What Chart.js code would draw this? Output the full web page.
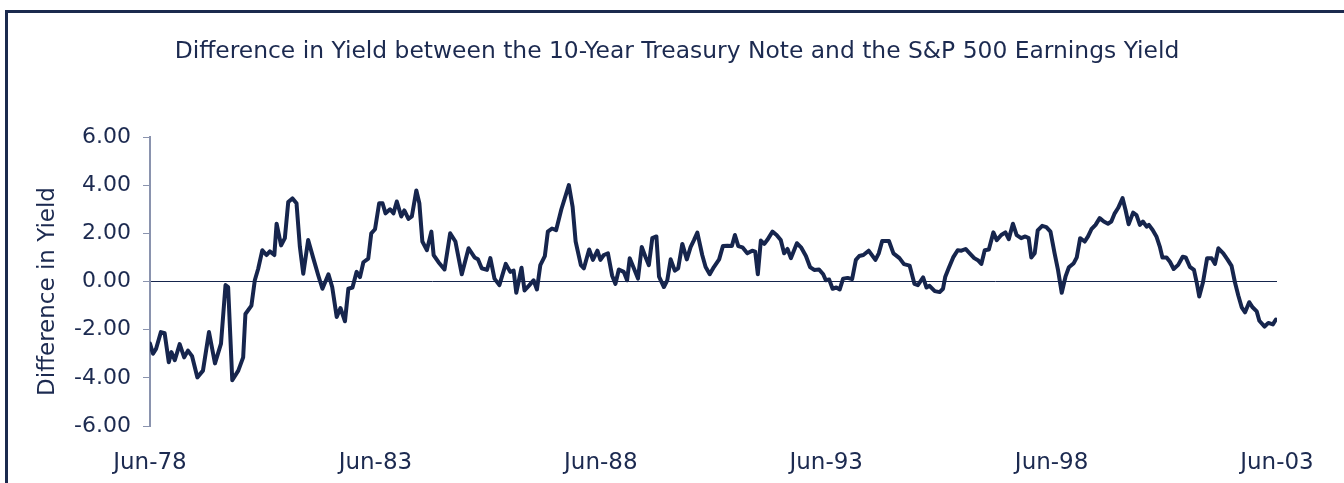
<!DOCTYPE html>
<html>
<head>
<meta charset="utf-8">
<script src="https://cdn.jsdelivr.net/npm/chart.js@4"></script>
<style>
  html, body { margin: 0; padding: 0; background: #ffffff; overflow: hidden; }
  #wrap { position: relative; width: 1344px; height: 483px; }
  #frame { position: absolute; left: 5px; top: 10px; width: 1400px; height: 600px;
           border-left: 3px solid #1b2a4e; border-top: 3px solid #1b2a4e; box-sizing: border-box; }
  canvas { position: absolute; left: 0; top: 0; }
</style>
</head>
<body>
<div id="wrap">
  <div id="frame"></div>
  <canvas id="c" width="1344" height="483"></canvas>
</div>
<script>
// Months elapsed since Jun-78
const months = [
  0, 0.8, 1.6, 2.9, 3.9, 5.0, 5.7, 6.6, 7.9, 9.1, 10.1, 11.2, 12.6, 14.1, 15.7, 17.3, 18.9, 20.1, 20.8, 21.9,
  23.5, 24.8, 25.4, 27.0, 27.9, 28.8, 29.9, 31.0, 31.9, 33.1, 33.7, 34.9, 35.9, 36.8, 37.9, 39.0, 39.9, 40.8, 42.1, 43.5,
  44.8, 45.9, 47.5, 48.5, 49.7, 50.7, 51.9, 52.8, 53.9, 55.0, 55.9, 56.8, 58.1, 58.9, 59.9, 61.0, 61.9, 62.7, 63.9, 64.8,
  65.7, 66.9, 67.7, 68.8, 69.7, 70.9, 71.7, 72.5, 73.7, 74.9, 75.5, 76.8, 78.4, 79.9, 81.3, 83.0, 84.8, 86.4, 87.3, 88.3,
  89.7, 90.6, 91.7, 93.0, 94.7, 95.9, 96.8, 97.5, 98.9, 99.7, 101.0, 102.1, 103.0, 103.9, 105.1, 105.9, 107.0, 108.1, 109.5, 111.5,
  112.5, 113.3, 114.7, 115.5, 116.9, 117.9, 119.1, 119.9, 120.8, 121.9, 123.0, 123.9, 124.8, 126.1, 127.0, 127.7, 128.8, 129.9, 130.9, 131.9,
  132.8, 133.7, 134.8, 135.5, 136.8, 137.7, 138.6, 139.7, 140.6, 141.7, 142.9, 143.9, 144.8, 145.7, 147.0, 147.9, 149.0, 150.1, 151.5, 152.5,
  153.7, 154.9, 155.7, 156.6, 157.7, 159.0, 160.3, 161.1, 161.8, 162.6, 163.5, 164.3, 165.7, 166.8, 167.9, 168.8, 169.7, 170.6, 172.2, 173.3,
  174.6, 175.7, 176.8, 178.1, 179.2, 179.9, 180.8, 181.7, 182.7, 183.6, 184.5, 185.7, 186.9, 187.9, 188.8, 189.9, 191.3, 193.1, 194.0, 194.9,
  196.7, 197.9, 199.5, 200.7, 202.2, 203.5, 204.4, 205.8, 206.7, 207.5, 208.9, 210.2, 211.1, 211.7, 212.6, 213.8, 215.0, 216.0, 217.1, 218.2,
  219.4, 220.5, 221.3, 222.2, 223.3, 224.5, 225.4, 226.6, 227.7, 228.6, 229.7, 230.7, 231.9, 233.0, 233.9, 234.6, 235.5, 236.3, 237.5, 238.6,
  239.7, 240.8, 241.7, 242.7, 243.7, 244.6, 245.9, 246.7, 247.6, 248.8, 249.7, 250.6, 251.7, 252.8, 253.9, 255.0, 255.9, 256.8, 257.7, 258.9,
  259.7, 260.5, 261.7, 262.6, 263.5, 264.3, 265.3, 265.9, 266.9, 267.9, 268.8, 269.5, 270.6, 271.5, 272.5, 273.7, 274.9, 275.7, 276.8, 277.9,
  278.7, 279.3, 280.3, 281.4, 282.6, 283.5, 284.4, 285.7, 286.8, 287.9, 288.8, 289.7, 290.6, 291.5, 292.6, 293.5, 294.6, 295.3, 296.7, 297.7,
  298.9, 299.7
];
// Difference in yield (10-yr Treasury minus S&P 500 earnings yield)
const spread = [
  -2.58, -3.0, -2.8, -2.1, -2.15, -3.35, -2.93, -3.27, -2.6, -3.15, -2.87, -3.1, -3.98, -3.7, -2.1, -3.4, -2.58, -0.15, -0.23, -4.1,
  -3.7, -3.15, -1.35, -1.0, 0.05, 0.53, 1.3, 1.1, 1.25, 1.1, 2.4, 1.5, 1.8, 3.3, 3.45, 3.25, 1.43, 0.32, 1.72, 0.95,
  0.25, -0.3, 0.3, -0.23, -1.47, -1.1, -1.65, -0.3, -0.25, 0.4, 0.18, 0.8, 0.95, 2.0, 2.17, 3.25, 3.25, 2.83, 3.0, 2.83,
  3.32, 2.7, 2.95, 2.6, 2.7, 3.78, 3.25, 1.66, 1.3, 2.07, 1.1, 0.8, 0.5, 2.0, 1.66, 0.3, 1.38, 1.0, 0.92, 0.55,
  0.48, 0.97, 0.12, -0.15, 0.73, 0.4, 0.45, -0.47, 0.57, -0.37, -0.15, 0.05, -0.33, 0.68, 1.05, 2.07, 2.2, 2.13, 3.0, 4.0,
  3.1, 1.66, 0.68, 0.55, 1.33, 0.9, 1.28, 0.9, 1.1, 1.17, 0.25, -0.1, 0.5, 0.4, 0.05, 0.97, 0.55, 0.12, 1.43, 1.02,
  0.68, 1.8, 1.87, 0.2, -0.23, 0.05, 0.92, 0.45, 0.55, 1.56, 0.92, 1.43, 1.72, 2.03, 1.1, 0.6, 0.3, 0.6, 0.92, 1.47,
  1.48, 1.47, 1.93, 1.47, 1.42, 1.17, 1.28, 1.24, 0.3, 1.7, 1.56, 1.72, 2.07, 1.93, 1.72, 1.17, 1.35, 0.97, 1.59, 1.42,
  1.06, 0.6, 0.48, 0.5, 0.3, 0.05, 0.08, -0.3, -0.25, -0.33, 0.12, 0.15, 0.1, 0.9, 1.06, 1.1, 1.28, 0.9, 1.17, 1.68,
  1.68, 1.17, 0.97, 0.72, 0.66, -0.1, -0.15, 0.17, -0.25, -0.18, -0.4, -0.44, -0.3, 0.2, 0.55, 1.0, 1.3, 1.28, 1.35, 1.17,
  0.97, 0.87, 0.73, 1.3, 1.33, 2.04, 1.72, 1.93, 2.04, 1.76, 2.4, 1.93, 1.8, 1.87, 1.8, 1.0, 1.17, 2.12, 2.31, 2.26,
  2.07, 1.17, 0.48, -0.47, 0.2, 0.59, 0.76, 1.0, 1.8, 1.66, 1.87, 2.17, 2.35, 2.63, 2.49, 2.4, 2.49, 2.83, 3.05, 3.46,
  2.96, 2.38, 2.86, 2.76, 2.35, 2.49, 2.28, 2.35, 2.14, 1.87, 1.45, 1.0, 1.0, 0.82, 0.52, 0.69, 1.03, 1.0, 0.61, 0.48,
  -0.1, -0.62, -0.03, 0.97, 0.97, 0.73, 1.38, 1.17, 0.92, 0.65, -0.03, -0.58, -1.07, -1.28, -0.86, -1.07, -1.24, -1.63, -1.87, -1.72,
  -1.78, -1.58
];
const tickMonths = [0, 60, 120, 180, 240, 300];
const tickLabels = ["Jun-78", "Jun-83", "Jun-88", "Jun-93", "Jun-98", "Jun-03"];
const yTicks = [-6, -4, -2, 0, 2, 4, 6];
const chartTitle = "Difference in Yield between the 10-Year Treasury Note and the S&P 500 Earnings Yield";
const yTitle = "Difference in Yield";

const NAVY = '#16254d';
const TEXT = '#1c2a50';
const AXIS = '#8a93ae';
const FONT = 'DejaVu Sans';

const points = months.map((m, i) => ({ x: m, y: spread[i] }));

// Draws the chart title and the y-axis title as canvas text
const titlesPlugin = {
  id: 'titles',
  afterDraw(chart) {
    const ctx = chart.ctx;
    const area = chart.chartArea;
    ctx.save();
    ctx.fillStyle = TEXT;
    ctx.textAlign = 'center';
    ctx.textBaseline = 'middle';
    ctx.font = '23.4px "' + FONT + '"';
    ctx.fillText(chartTitle, (chart.width + 10) / 2, 52);
    ctx.translate(48, (area.top + area.bottom) / 2 + 10);
    ctx.rotate(-Math.PI / 2);
    ctx.font = '23px "' + FONT + '"';
    ctx.fillText(yTitle, 0, 0);
    ctx.restore();
  }
};

new Chart(document.getElementById('c'), {
  type: 'line',
  data: {
    datasets: [{
      data: points,
      borderColor: NAVY,
      borderWidth: 4,
      pointRadius: 0,
      tension: 0,
      fill: false,
      borderJoinStyle: 'round',
      borderCapStyle: 'round'
    }]
  },
  plugins: [titlesPlugin],
  options: {
    responsive: false,
    animation: false,
    layout: { padding: { left: 0, right: 67, top: 137, bottom: 0 } },
    plugins: {
      legend: { display: false },
      tooltip: { enabled: false },
      title: { display: false }
    },
    scales: {
      x: {
        type: 'linear',
        min: 0,
        max: 300,
        afterBuildTicks: (s) => { s.ticks = tickMonths.map(v => ({ value: v })); },
        afterFit: (s) => { s.height = 57; },
        ticks: {
          autoSkip: false,
          maxRotation: 0,
          padding: 23,
          color: TEXT,
          font: { family: FONT, size: 23 },
          callback: (v) => tickLabels[tickMonths.indexOf(v)]
        },
        grid: { display: false, drawTicks: false },
        border: { display: false }
      },
      y: {
        min: -6,
        max: 6,
        afterBuildTicks: (s) => { s.ticks = yTicks.map(v => ({ value: v })); },
        afterFit: (s) => { s.width = 150; },
        ticks: {
          padding: 12,
          color: TEXT,
          font: { family: FONT, size: 22 },
          callback: (v) => v.toFixed(2)
        },
        grid: {
          color: (ctx) => (ctx.tick && ctx.tick.value === 0) ? NAVY : 'rgba(0,0,0,0)',
          tickColor: AXIS,
          tickLength: 7,
          lineWidth: 1
        },
        border: { color: AXIS, width: 2 },
        title: { display: false }
      }
    }
  }
});
</script>
</body>
</html>
